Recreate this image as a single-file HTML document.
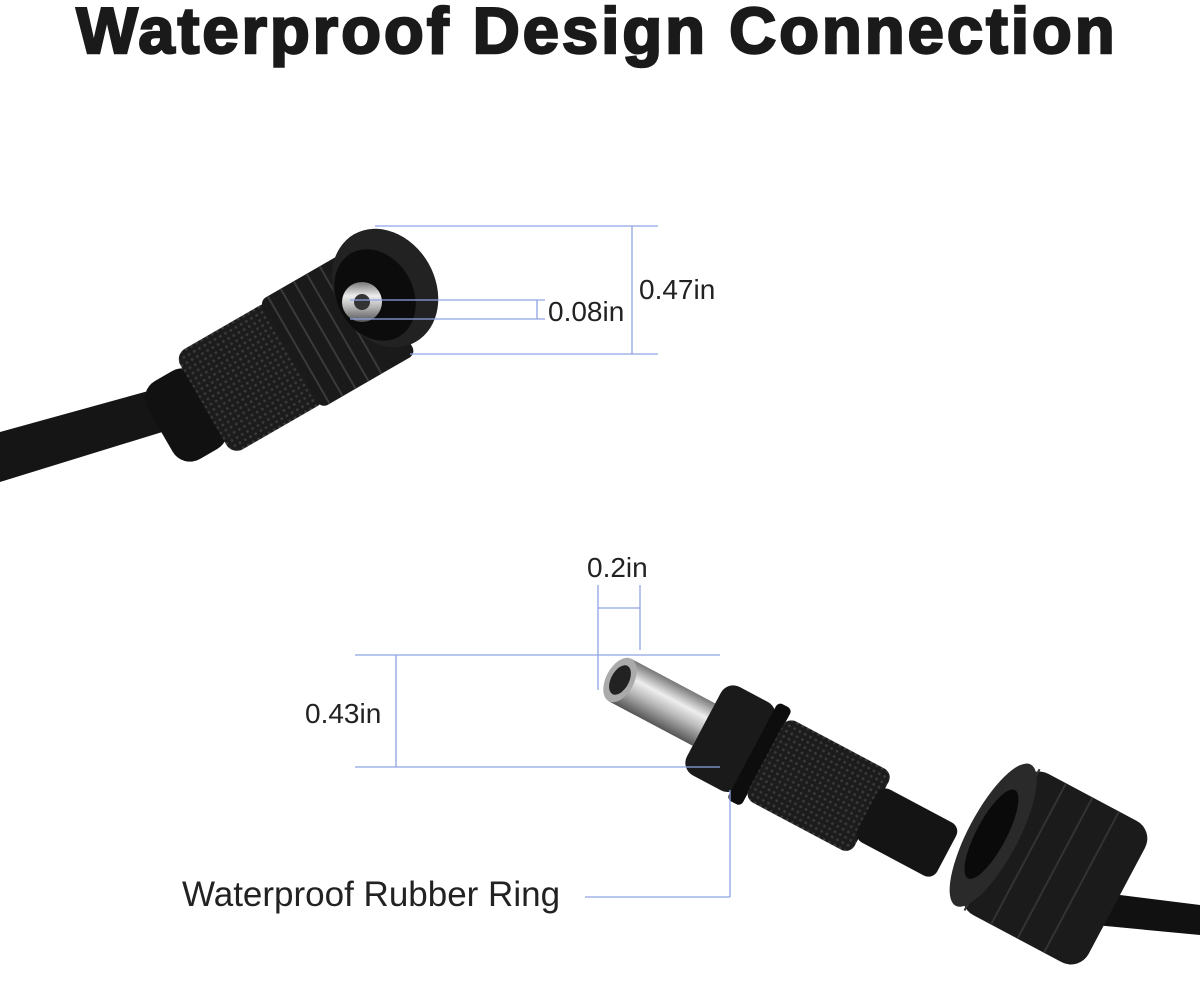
<!DOCTYPE html>
<html><head><meta charset="utf-8"><style>
body{margin:0;background:#fff;}
svg{display:block}
</style></head><body>
<svg width="1200" height="985" viewBox="0 0 1200 985" xmlns="http://www.w3.org/2000/svg">
<defs>
<linearGradient id="metal" x1="0" y1="0" x2="0" y2="1">
<stop offset="0" stop-color="#777"/><stop offset="0.35" stop-color="#eee"/><stop offset="0.6" stop-color="#bbb"/><stop offset="1" stop-color="#555"/>
</linearGradient>
<pattern id="grip" width="6" height="6" patternUnits="userSpaceOnUse">
<rect width="6" height="6" fill="#1c1c1c"/><circle cx="3" cy="3" r="1.4" fill="#3a3a3a"/>
</pattern>
</defs>
<text x="597" y="53" text-anchor="middle" font-family="Liberation Sans, sans-serif" font-weight="bold" font-size="65" fill="#1a1a1a" stroke="#1a1a1a" stroke-width="2.5" letter-spacing="3.1">Waterproof Design Connection</text>

<path d="M0 432 L170 385 L185 425 L0 482 Z" fill="#151515"/>
<g transform="translate(290,355) rotate(-30)">
<rect x="-150" y="-45" width="60" height="90" rx="20" fill="#111"/>
<rect x="-100" y="-58" width="110" height="116" rx="12" fill="url(#grip)"/>
<rect x="0" y="-62" width="110" height="124" rx="8" fill="#1a1a1a"/>
<g stroke="#3a3a3a" stroke-width="2">
<line x1="10" y1="-62" x2="10" y2="62"/><line x1="25" y1="-62" x2="25" y2="62"/><line x1="40" y1="-62" x2="40" y2="62"/><line x1="55" y1="-62" x2="55" y2="62"/><line x1="70" y1="-62" x2="70" y2="62"/>
</g>
</g>
<ellipse cx="385" cy="288" rx="50" ry="62" transform="rotate(-30 385 288)" fill="#222"/>
<ellipse cx="375" cy="295" rx="38" ry="48" transform="rotate(-30 375 295)" fill="#0c0c0c"/>
<circle cx="362" cy="302" r="20" fill="url(#metal)"/>
<circle cx="362" cy="302" r="8" fill="#333"/>

<g stroke="#8fa3e3" stroke-width="1.3" fill="none">
<line x1="375" y1="226" x2="658" y2="226"/>
<line x1="410" y1="354" x2="658" y2="354"/>
<line x1="632" y1="226" x2="632" y2="354"/>
<line x1="350" y1="300" x2="545" y2="300"/>
<line x1="350" y1="319" x2="545" y2="319"/>
<line x1="537" y1="300" x2="537" y2="319"/>
</g>
<g font-family="Liberation Sans, sans-serif" font-size="28" fill="#222">
<text x="639" y="299">0.47in</text>
<text x="548" y="321">0.08in</text>
<text x="587" y="577">0.2in</text>
<text x="305" y="723">0.43in</text>
<text x="182" y="906" font-size="35">Waterproof Rubber Ring</text>
</g>

<path d="M1000 880 L1200 905 L1200 935 L990 915 Z" fill="#111"/>
<g transform="translate(620,680) rotate(28)">
<rect x="0" y="-24" width="95" height="48" fill="url(#metal)"/>
<ellipse cx="0" cy="0" rx="14" ry="24" fill="#aaa"/>
<ellipse cx="0" cy="0" rx="9" ry="16" fill="#222"/>
<rect x="95" y="-50" width="60" height="100" rx="14" fill="#1a1a1a"/>
<rect x="150" y="-55" width="16" height="110" rx="5" fill="#0d0d0d"/>
<rect x="165" y="-46" width="120" height="92" rx="10" fill="url(#grip)"/>
<rect x="280" y="-30" width="90" height="60" rx="10" fill="#141414"/>
</g>
<g transform="translate(1055,868) rotate(28)">
<rect x="-70" y="-80" width="140" height="160" rx="20" fill="#1b1b1b"/>
<g stroke="#333" stroke-width="2"><line x1="-60" y1="-80" x2="-60" y2="80"/><line x1="-30" y1="-80" x2="-30" y2="80"/><line x1="0" y1="-80" x2="0" y2="80"/><line x1="30" y1="-80" x2="30" y2="80"/></g>
<ellipse cx="-70" cy="0" rx="25" ry="80" fill="#2a2a2a"/>
<ellipse cx="-72" cy="0" rx="15" ry="50" fill="#0a0a0a"/>
</g>

<g stroke="#8fa3e3" stroke-width="1.3" fill="none">
<line x1="598" y1="585" x2="598" y2="690"/>
<line x1="640" y1="585" x2="640" y2="650"/>
<line x1="598" y1="608" x2="640" y2="608"/>
<line x1="355" y1="655" x2="720" y2="655"/>
<line x1="355" y1="767" x2="720" y2="767"/>
<line x1="396" y1="655" x2="396" y2="767"/>
<line x1="730" y1="790" x2="730" y2="897"/>
<line x1="585" y1="897" x2="730" y2="897"/>
</g>
</svg>
</body></html>
